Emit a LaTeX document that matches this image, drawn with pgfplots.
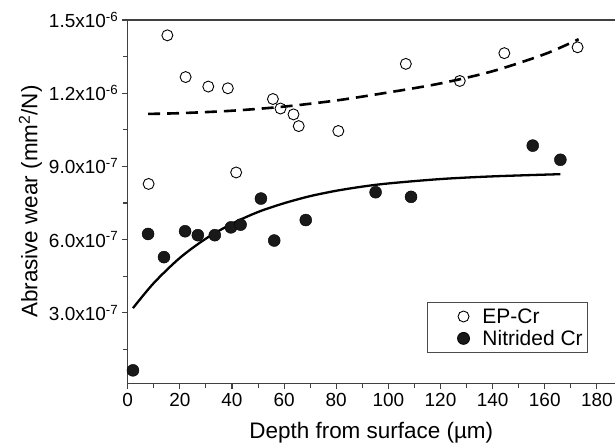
\documentclass[border=0pt]{standalone}
\usepackage{fontspec}
\setmainfont{Liberation Sans}
\usepackage{pgfplots}
\pgfplotsset{compat=1.18}
\usetikzlibrary{calc}
\begin{document}
\begin{tikzpicture}
\begin{axis}[
  scale only axis, width=488pt, height=364pt,
  xmin=0, xmax=186.9, ymin=1.1e-8, ymax=1.5e-6,
  scaled y ticks=false,
  axis x line*=box, axis y line*=left,
  axis line style={line width=1.3pt, black!75, -},
  xtick pos=bottom, ytick pos=left,
  tick align=outside,
  major tick length=6pt, minor tick length=4.5pt,
  every tick/.style={line width=1.1pt, black!75},
  xtick={0,20,...,180}, minor x tick num=1,
  ytick={3e-7,6e-7,9e-7,1.2e-6,1.5e-6},
  yticklabels={3.0x10\textsuperscript{-7},6.0x10\textsuperscript{-7},9.0x10\textsuperscript{-7},1.2x10\textsuperscript{-6},1.5x10\textsuperscript{-6}},
  minor ytick={1.5e-7,4.5e-7,7.5e-7,1.05e-6,1.35e-6},
  /pgf/number format/assume math mode=true,
  ticklabel style={font=\fontsize{19}{22}\selectfont},
  xlabel={Depth from surface (µm)},
  ylabel={Abrasive wear (mm\textsuperscript{2}/N)},
  label style={font=\fontsize{22.5}{26}\selectfont},
  xlabel style={yshift=-9pt},
  legend style={at={(0.945,0.083)}, anchor=south east, draw=black!70, line width=0.8pt,
    font=\fontsize{21}{25}\selectfont, inner xsep=3pt, inner ysep=4pt, row sep=1.5pt},
  legend cell align=left,
  legend image code/.code={\path[draw=none] (0pt,-1pt) rectangle (50pt,1pt); \draw[#1] plot coordinates {(33pt,0pt)};},
]
\addplot[black, line width=2.6pt, dash pattern=on 12pt off 7pt, smooth, forget plot] coordinates {
(7.8,1.115e-6)(20,1.118e-6)(40,1.128e-6)(60,1.145e-6)(80,1.170e-6)(100,1.203e-6)(120,1.240e-6)(140,1.290e-6)(160,1.360e-6)(173,1.421e-6)};
\addplot[black, line width=2.3pt, smooth, forget plot] coordinates {
(2,0.319e-6)(10,0.422e-6)(20,0.525e-6)(30,0.604e-6)(40,0.665e-6)(50,0.713e-6)(60,0.749e-6)(70,0.778e-6)(80,0.800e-6)(90,0.817e-6)(100,0.830e-6)(120,0.848e-6)(140,0.859e-6)(166,0.868e-6)};
\addplot[only marks, mark=o, mark size=5.5pt, mark options={line width=0.9pt, draw=black, fill=white}] coordinates {
(8.0,8.28e-7)(15.2,1.437e-6)(22.2,1.266e-6)(30.9,1.227e-6)(38.4,1.220e-6)(41.6,8.75e-7)(55.7,1.176e-6)(58.6,1.137e-6)(63.6,1.113e-6)(65.6,1.065e-6)(80.8,1.045e-6)(106.7,1.32e-6)(127.4,1.250e-6)(144.5,1.364e-6)(172.6,1.388e-6)};
\addlegendentry{EP-Cr}
\addplot[only marks, mark=*, mark size=6pt, mark options={draw=black, fill=black!90}] coordinates {
(2.0,6.4e-8)(7.8,6.23e-7)(13.9,5.28e-7)(22.0,6.34e-7)(26.9,6.18e-7)(33.4,6.18e-7)(39.6,6.50e-7)(43.3,6.61e-7)(51.1,7.68e-7)(56.2,5.96e-7)(68.3,6.80e-7)(95.1,7.94e-7)(108.7,7.75e-7)(155.4,9.85e-7)(166.0,9.27e-7)};
\addlegendentry{Nitrided Cr}
\end{axis}
\path ($(current axis.south west)+(-128pt,-64pt)$) rectangle ($(current axis.north east)+(0pt,20pt)$);
\end{tikzpicture}
\end{document}
